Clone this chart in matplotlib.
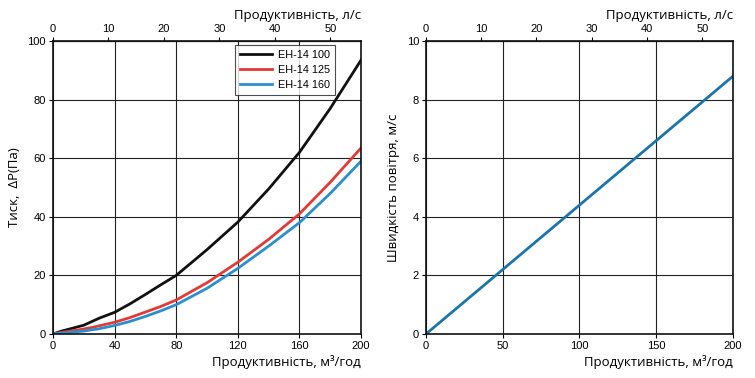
import matplotlib
matplotlib.use("Agg")
import matplotlib.pyplot as plt
import numpy as np

plt.rcParams['font.family'] = ['Open Sans', 'DejaVu Sans']

# Left chart data
flow = [0, 5, 10, 20, 25, 30, 40, 50, 60, 70, 80, 100, 120, 140, 160, 180, 200]
dp_100 = [0, 0.9, 1.6, 3.0, 4.2, 5.4, 7.4, 10.3, 13.5, 16.8, 20.0, 28.8, 38.2, 49.5, 62.0, 77.0, 93.5]
dp_125 = [0, 0.5, 0.9, 1.7, 2.2, 2.8, 4.0, 5.6, 7.5, 9.4, 11.6, 17.5, 24.5, 32.3, 41.0, 51.8, 63.5]
dp_160 = [0, 0.3, 0.5, 1.0, 1.4, 1.8, 2.9, 4.3, 6.0, 7.9, 10.0, 15.6, 22.4, 30.0, 38.0, 48.0, 59.0]
series_names = ['ЕН-14 100', 'ЕН-14 125', 'ЕН-14 160']

# Right chart data
flow_v = [0, 200]
velocity = [0, 8.8]

colors = ['#111111', '#e53935', '#2a8fce']
vel_color = '#1b75ab'

fig = plt.figure(figsize=(7.55, 3.78), dpi=100)
ax1 = fig.add_axes([0.0702, 0.1164, 0.408, 0.775])
ax2 = fig.add_axes([0.5642, 0.1164, 0.4066, 0.775])

tick_font = ['Liberation Sans', 'DejaVu Sans']
tick_kw = dict(labelsize=8, length=3, width=0.8, direction='out', pad=2)

for y, c, n in zip([dp_100, dp_125, dp_160], colors, series_names):
    ax1.plot(flow, y, color=c, lw=2.0, label=n)
ax1.set_xlim(0, 200)
ax1.set_ylim(0, 100)
ax1.set_xticks([0, 40, 80, 120, 160, 200])
ax1.set_yticks([0, 20, 40, 60, 80, 100])
ax1.grid(True, color='#222222', lw=0.8)
ax1.set_axisbelow(True)
ax1.set_ylabel('Тиск,  ΔP(Па)', fontsize=9.5, labelpad=5)
ax1.set_xlabel('Продуктивність, м³/год', fontsize=9.5, loc='right', labelpad=3)
leg = ax1.legend(loc='upper right', frameon=True, fancybox=False,
                 edgecolor='#222222', handlelength=2.9, borderpad=0.45,
                 labelspacing=0.45, handletextpad=0.6, borderaxespad=0,
                 bbox_to_anchor=(0.916, 0.986), prop={'family': tick_font, 'size': 7.8})
leg.get_frame().set_linewidth(0.8)

ax2.plot(flow_v, velocity, color=vel_color, lw=2.0)
ax2.set_xlim(0, 200)
ax2.set_ylim(0, 10)
ax2.set_xticks([0, 50, 100, 150, 200])
ax2.set_yticks([0, 2, 4, 6, 8, 10])
ax2.grid(True, color='#222222', lw=0.8)
ax2.set_axisbelow(True)
ax2.set_ylabel('Швидкість повітря, м/с', fontsize=9.5, labelpad=5)
ax2.set_xlabel('Продуктивність, м³/год', fontsize=9.5, loc='right', labelpad=3)

for ax in (ax1, ax2):
    for s in ax.spines.values():
        s.set_linewidth(1.2)
        s.set_color('#111111')
    ax.tick_params(**tick_kw)
    sec = ax.secondary_xaxis('top', functions=(lambda x: x / 3.6, lambda x: x * 3.6))
    sec.set_xticks([0, 10, 20, 30, 40, 50])
    sec.tick_params(**tick_kw)
    sec.set_xlabel('Продуктивність, л/с', fontsize=9.5, loc='right', labelpad=4)
    for lab in ax.get_xticklabels() + ax.get_yticklabels() + sec.get_xticklabels():
        lab.set_family(tick_font)

fig.savefig('out.png', dpi=100)
